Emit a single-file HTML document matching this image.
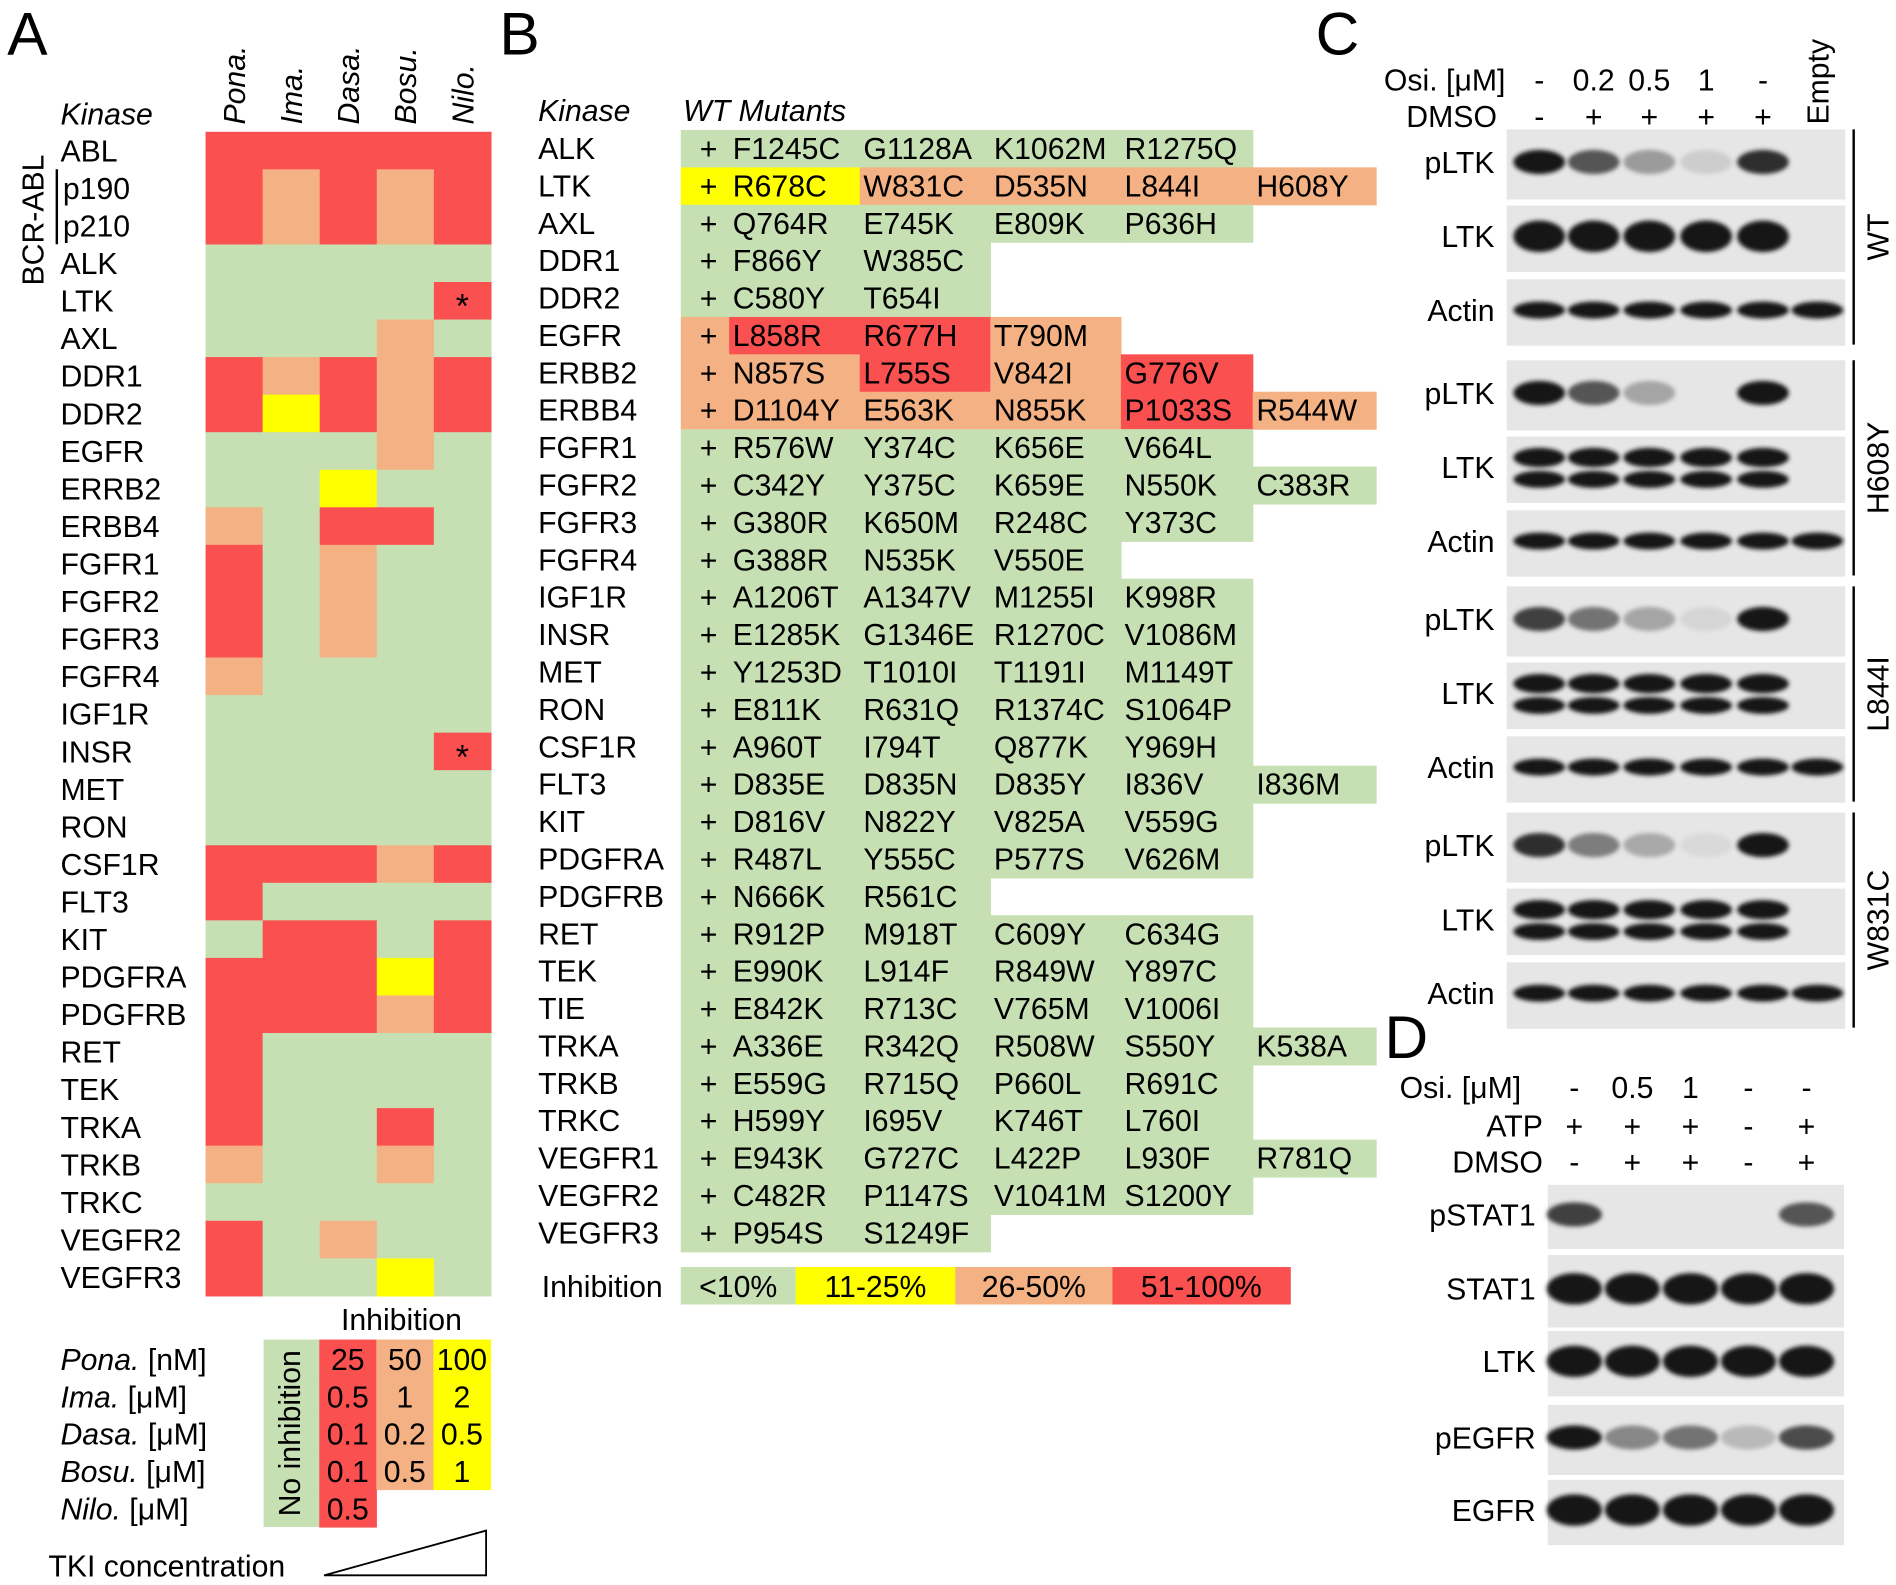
<!DOCTYPE html>
<html><head><meta charset="utf-8"><style>
html,body{margin:0;padding:0;background:#fff;}
svg{display:block;font-family:"Liberation Sans",sans-serif;}
</style></head><body>
<svg id="fig" width="1896" height="1585" viewBox="0 0 1568 1311" preserveAspectRatio="none" xmlns="http://www.w3.org/2000/svg">
<defs><filter id="blur" x="-20%" y="-50%" width="140%" height="200%"><feGaussianBlur stdDeviation="1.8"/></filter></defs>
<g id="pA"></g>
<g id="pB"></g>
<g id="pC"></g>
<g id="pD"></g>
</svg>
<script>
// ---------- data ----------
const drugsA = ["Pona.","Ima.","Dasa.","Bosu.","Nilo."];
const kinasesA = ["ABL","p190","p210","ALK","LTK","AXL","DDR1","DDR2","EGFR","ERRB2","ERBB4","FGFR1","FGFR2","FGFR3","FGFR4","IGF1R","INSR","MET","RON","CSF1R","FLT3","KIT","PDGFRA","PDGFRB","RET","TEK","TRKA","TRKB","TRKC","VEGFR2","VEGFR3"];
const inhibA = ["RRRRR","RORORR".slice(0,5),"RORORR".slice(0,5),"GGGGG","GGGGR","GGGOG","RORORR".slice(0,5),"RYROR","GGGOG","GGYGG","OGRRG","RGOGG","RGOGG","RGOGG","OGGGG","GGGGG","GGGGR","GGGGG","GGGGG","RRROR","RGGGG","GRRGR","RRRYR","RRROR","RGGGG","RGGGG","RGGRG","OGGOG","GGGGG","RGOGG","RGGYG"];
const starsA = ["LTK","INSR"];
const kinasesB = ["ALK","LTK","AXL","DDR1","DDR2","EGFR","ERBB2","ERBB4","FGFR1","FGFR2","FGFR3","FGFR4","IGF1R","INSR","MET","RON","CSF1R","FLT3","KIT","PDGFRA","PDGFRB","RET","TEK","TIE","TRKA","TRKB","TRKC","VEGFR1","VEGFR2","VEGFR3"];
const mutantsB = [["F1245C","G1128A","K1062M","R1275Q"],["R678C","W831C","D535N","L844I","H608Y"],["Q764R","E745K","E809K","P636H"],["F866Y","W385C"],["C580Y","T654I"],["L858R","R677H","T790M"],["N857S","L755S","V842I","G776V"],["D1104Y","E563K","N855K","P1033S","R544W"],["R576W","Y374C","K656E","V664L"],["C342Y","Y375C","K659E","N550K","C383R"],["G380R","K650M","R248C","Y373C"],["G388R","N535K","V550E"],["A1206T","A1347V","M1255I","K998R"],["E1285K","G1346E","R1270C","V1086M"],["Y1253D","T1010I","T1191I","M1149T"],["E811K","R631Q","R1374C","S1064P"],["A960T","I794T","Q877K","Y969H"],["D835E","D835N","D835Y","I836V","I836M"],["D816V","N822Y","V825A","V559G"],["R487L","Y555C","P577S","V626M"],["N666K","R561C"],["R912P","M918T","C609Y","C634G"],["E990K","L914F","R849W","Y897C"],["E842K","R713C","V765M","V1006I"],["A336E","R342Q","R508W","S550Y","K538A"],["E559G","R715Q","P660L","R691C"],["H599Y","I695V","K746T","L760I"],["E943K","G727C","L422P","L930F","R781Q"],["C482R","P1147S","V1041M","S1200Y"],["P954S","S1249F"]];
const inhibB = {LTK:"YYOOOO",EGFR:"ORRO",ERBB2:"OOROR",ERBB4:"OOOORO"};
const legendB = [["<10%","G"],["11-25%","Y"],["26-50%","O"],["51-100%","R"]];
const legDrugs = ["Pona. [nM]","Ima. [μM]","Dasa. [μM]","Bosu. [μM]","Nilo. [μM]"];
const legVals = [["25","50","100"],["0.5","1","2"],["0.1","0.2","0.5"],["0.1","0.5","1"],["0.5"]];
const osiC = ["-","0.2","0.5","1","-",""];
const dmsoC = ["-","+","+","+","+",""];
const groupsC = ["WT","H608Y","L844I","W831C"];
const pLTKC = [[1,0.7,0.35,0.1,0.9,0],[1,0.7,0.3,0,1,0],[0.8,0.55,0.3,0.06,1,0],[0.9,0.5,0.28,0.04,1,0]];
const LTKC = [1,1,1,1,1,0];
const actinC = [1,1,1,1,1,1];
const osiD = ["-","0.5","1","-","-"];
const atpD = ["+","+","+","-","+"];
const dmsoD = ["-","+","+","-","+"];
const pSTAT1D = [0.8,0,0,0,0.7];
const STAT1D = [1,1,1,1,1];
const LTKD = [1,1,1,1,1];
const pEGFRD = [1,0.45,0.55,0.2,0.75];
const EGFRD = [1,1,1,1,1];

// ---------- helpers ----------
const NS="http://www.w3.org/2000/svg";
const COL={G:"#c6e0b4",Y:"#ffff00",O:"#f4b183",R:"#fb5050"};
function mk(parent,tag,attrs,text){const e=document.createElementNS(NS,tag);for(const k in attrs)e.setAttribute(k,attrs[k]);if(text!==undefined)e.textContent=text;parent.appendChild(e);return e;}
function txt(parent,x,y,s,size,opts){opts=opts||{};const e=mk(parent,"text",{x:x,y:y,"font-size":size,fill:"#000","text-anchor":opts.anchor||"start"},s);if(opts.italic)e.setAttribute("font-style","italic");if(opts.rot)e.setAttribute("transform","rotate("+opts.rot+" "+x+" "+y+")");return e;}

// ---------- Panel A ----------
const A=document.getElementById("pA");
let t=txt(A,6,45,"A",50);
const ax0=170,acw=47.2,ay0=109,arh=31.06;
const colX=i=>ax0+i*acw, rowY=i=>ay0+i*arh;
t=txt(A,50,103,"Kinase",25,{italic:true});
drugsA.forEach((d,i)=>{const e=txt(A,colX(i)+acw/2+9,103,d,25,{italic:true,rot:-90});

});
kinasesA.forEach((k,r)=>{
  const e=txt(A,r==1||r==2?52:50,rowY(r)+arh/2+9,k,25);
  
  
  for(let c=0;c<5;c++){
    const cell=mk(A,"rect",{x:colX(c),y:rowY(r),width:acw+0.5,height:arh+0.5,fill:COL[inhibA[r][c]]});
    
    
  }
  if(starsA.includes(k)){const s=txt(A,colX(4)+acw/2,rowY(r)+arh/2+14,"*",28,{anchor:"middle"});
  
  }
});
t=txt(A,36,182,"BCR-ABL",25,{anchor:"middle",rot:-90});
mk(A,"line",{x1:47,y1:140,x2:47,y2:202,stroke:"#000","stroke-width":2});
t=txt(A,332,1100,"Inhibition",25,{anchor:"middle"});
const ly0=1108,lrh=31;
mk(A,"rect",{x:218,y:ly0,width:46,height:lrh*5,fill:COL.G});
t=txt(A,248,ly0+lrh*2.5,"No inhibition",25,{anchor:"middle",rot:-90});
const legCols=["R","O","Y"];
legDrugs.forEach((d,r)=>{
  const e=txt(A,50,ly0+r*lrh+25,d.split(" ")[0],25,{italic:true});
  mk(e,"tspan",{"font-style":"normal"}," "+d.split(" ")[1]);
  
  
  legVals[r].forEach((v,c)=>{
    const x=264+c*47.2;
    const b=mk(A,"rect",{x:x,y:ly0+r*lrh,width:47.7,height:lrh+0.5,fill:COL[legCols[c]]});
    
    
    txt(A,x+23.6,ly0+r*lrh+25,v,25,{anchor:"middle"});
  });
});
t=mk(A,"polygon",{points:"268,1303 402,1303 402,1266",fill:"#fff",stroke:"#000","stroke-width":1.5});
t=txt(A,40,1304,"TKI concentration",25);

// ---------- Panel B ----------
const B=document.getElementById("pB");
t=txt(B,413,45,"B",50);
t=txt(B,445,100,"Kinase",25,{italic:true});
t=txt(B,565,100,"WT Mutants",25,{italic:true});
const by0=107.5,brh=30.93;
const mutX=[603,711,819,927,1036,1138];
kinasesB.forEach((k,r)=>{
  const y=by0+r*brh;
  const e=txt(B,445,y+24,k,25);
  
  
  const muts=mutantsB[r];
  const codes=inhibB[k]||"G".repeat(muts.length+1);
  const wt=mk(B,"rect",{x:563,y:y,width:41,height:brh+0.5,fill:COL[codes[0]]});
  
  
  txt(B,586,y+24,"+",25,{anchor:"middle"});
  muts.forEach((m,i)=>{
    const c=mk(B,"rect",{x:mutX[i],y:y,width:mutX[i+1]-mutX[i]+0.5,height:brh+0.5,fill:COL[codes[i+1]]});
    
    
    txt(B,mutX[i]+3,y+24,m,25);
  });
});
t=txt(B,448,1073,"Inhibition",25);
const legBX=[563,658,790,920,1067];
legendB.forEach((l,i)=>{
  const r=mk(B,"rect",{x:legBX[i],y:1048,width:legBX[i+1]-legBX[i]+0.5,height:31,fill:COL[l[1]]});
  
  
  txt(B,(legBX[i]+legBX[i+1])/2,1073,l[0],25,{anchor:"middle"});
});

// ---------- blots ----------
function strip(g,x0,x1,y0,y1,lanes,vals,double,label,name){
  const s=mk(g,"rect",{x:x0,y:y0,width:x1-x0,height:y1-y0,fill:"#e6e6e6"});
  
  
  const cy=(y0+y1)/2-2, bw=(lanes[1]-lanes[0])*0.95;
  vals.forEach((v,i)=>{
    if(v<=0.01)return;
    const gv=Math.round(225-200*v);
    const col="rgb("+gv+","+gv+","+gv+")";
    if(double){
      mk(g,"ellipse",{cx:lanes[i],cy:cy-8,rx:bw/2,ry:8,fill:col,filter:"url(#blur)"});
      mk(g,"ellipse",{cx:lanes[i],cy:cy+10,rx:bw/2,ry:7,fill:col,filter:"url(#blur)"});
    } else {
      const ry=name.includes("actin")?7:(name.includes("pltk")||name.includes("pstat")||name.includes("pegfr")?10:13);
      mk(g,"ellipse",{cx:lanes[i],cy:cy,rx:bw/2,ry:ry,fill:col,filter:"url(#blur)"});
    }
  });
  const l=txt(g,x0-10,cy+9,label,25,{anchor:"end"});
  
  
}
const C=document.getElementById("pC");
t=txt(C,1088,45,"C",50);
const lanesC=[1273,1318,1364,1411,1458,1503];
t=txt(C,1245,75,"Osi. [μM]",25,{anchor:"end"});
t=txt(C,1238,105,"DMSO",25,{anchor:"end"});
osiC.forEach((v,i)=>{txt(C,lanesC[i],75,v,25,{anchor:"middle"});txt(C,lanesC[i],105,dmsoC[i],25,{anchor:"middle"});});
t=txt(C,1512,103,"Empty",25,{rot:-90});
const gy=[107,298,485,672];
groupsC.forEach((gname,k)=>{
  const y=gy[k];
  strip(C,1246,1526,y,y+58,lanesC,pLTKC[k],false,"pLTK","pltk-strip");
  strip(C,1246,1526,y+63,y+118,lanesC,LTKC,k>0,"LTK","ltk-strip");
  strip(C,1246,1526,y+124,y+179,lanesC,actinC,false,"Actin","actin-strip");
  mk(C,"line",{x1:1533,y1:y,x2:1533,y2:y+178,stroke:"#000","stroke-width":2});
  const e=txt(C,1562,y+89,gname,25,{anchor:"middle",rot:-90});
  
  
});

const D=document.getElementById("pD");
t=txt(D,1145,875,"D",50);
const lanesD=[1302,1350,1398,1446,1494];
t=txt(D,1258,908,"Osi. [μM]",25,{anchor:"end"});
t=txt(D,1276,940,"ATP",25,{anchor:"end"});
t=txt(D,1276,970,"DMSO",25,{anchor:"end"});
osiD.forEach((v,i)=>{txt(D,lanesD[i],908,v,25,{anchor:"middle"});txt(D,lanesD[i],940,atpD[i],25,{anchor:"middle"});txt(D,lanesD[i],970,dmsoD[i],25,{anchor:"middle"});});
strip(D,1280,1525,980,1033,lanesD,pSTAT1D,false,"pSTAT1","pstat1-strip");
strip(D,1280,1525,1038,1098,lanesD,STAT1D,false,"STAT1","stat1-strip");
strip(D,1280,1525,1101,1155,lanesD,LTKD,false,"LTK","ltk-d-strip");
strip(D,1280,1525,1162,1220,lanesD,pEGFRD,false,"pEGFR","pegfr-strip");
strip(D,1280,1525,1224,1278,lanesD,EGFRD,false,"EGFR","egfr-strip");
</script>
</body></html>
